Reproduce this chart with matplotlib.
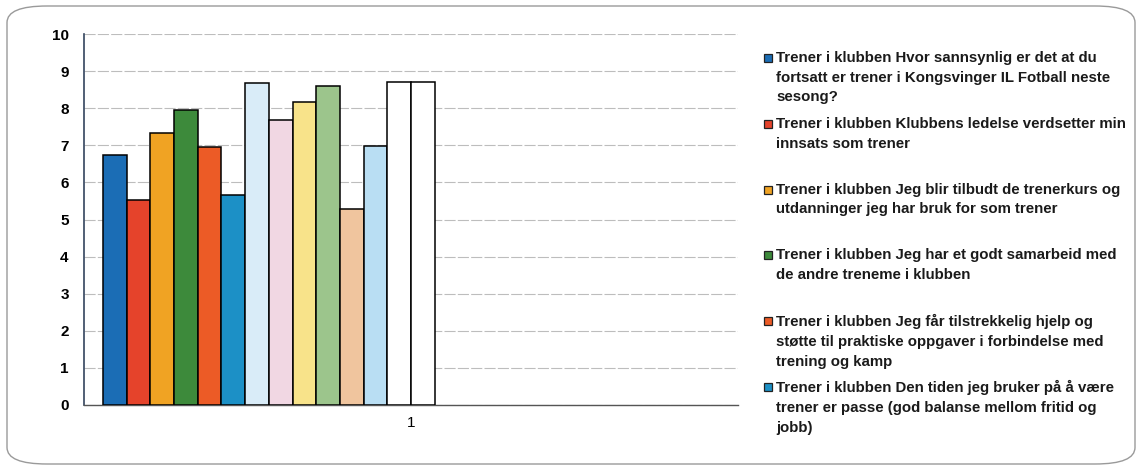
import matplotlib
matplotlib.use("Agg")
import matplotlib.pyplot as plt
from matplotlib.patches import FancyBboxPatch, Rectangle

plt.rcParams['font.family'] = ['Liberation Sans', 'DejaVu Sans']

##############################
# Data
##############################

verdier = [6.73, 5.53, 7.34, 7.95, 6.95, 5.66, 8.67, 7.68, 8.18, 8.59, 5.27, 6.98, 8.71, 8.71]
farger = ['#1b6db5', '#e5432b', '#f0a323', '#3d8a3b', '#ec5b26', '#1c90c6',
          '#d9ecf8', '#f1d7e3', '#f8e38a', '#9cc58c', '#f0c59e', '#b9def3',
          '#ffffff', '#ffffff']
kategori = ['1']
antall_serier = 26   # serier i gruppen (resten er tomme)

etiketter = [
    "Trener i klubben Hvor sannsynlig er det at du\nfortsatt er trener i Kongsvinger IL Fotball neste\nsesong?",
    "Trener i klubben Klubbens ledelse verdsetter min\ninnsats som trener",
    "Trener i klubben Jeg blir tilbudt de trenerkurs og\nutdanninger jeg har bruk for som trener",
    "Trener i klubben Jeg har et godt samarbeid med\nde andre treneme i klubben",
    "Trener i klubben Jeg får tilstrekkelig hjelp og\nstøtte til praktiske oppgaver i forbindelse med\ntrening og kamp",
    "Trener i klubben Den tiden jeg bruker på å være\ntrener er passe (god balanse mellom fritid og\njobb)",
]

##############################
# Figur
##############################

W, H = 1141, 472
fig = plt.figure(figsize=(W / 100, H / 100), dpi=100)

# ramme rundt hele diagrammet
ramme = FancyBboxPatch((7 / W, 8 / H), 1128 / W, 458 / H,
                       boxstyle="round,pad=0,rounding_size=0.035",
                       transform=fig.transFigure, fill=False,
                       edgecolor='#9a9a9a', linewidth=1.0)
fig.patches.append(ramme)

ax = fig.add_axes([84 / W, 1 - 405 / H, (738 - 84) / W, (405 - 34) / H])

n = len(verdier)
posisjoner = [i - (antall_serier - 1) / 2 for i in range(n)]
ax.bar(posisjoner, verdier, width=1.0, color=farger,
       edgecolor='black', linewidth=1.1, zorder=3)

ax.set_xlim(-antall_serier / 2 - 0.8, antall_serier / 2 + 0.8)
ax.set_ylim(0, 10)
ax.set_yticks(range(0, 11))
ax.set_xticks([0])
ax.set_xticklabels(kategori)
ax.tick_params(axis='y', length=0, pad=11, labelsize=11)
ax.tick_params(axis='x', length=0, pad=8, labelsize=11)
for lab in ax.get_yticklabels():
    lab.set_fontweight('bold')

ax.grid(axis='y', color='#bdbdbd', linewidth=0.8, linestyle=(0, (10, 2)), zorder=0)
for s in ['top', 'right']:
    ax.spines[s].set_visible(False)
ax.spines['left'].set_color('#33445e')
ax.spines['left'].set_linewidth(1.2)
ax.spines['bottom'].set_color('#555555')
ax.spines['bottom'].set_linewidth(1.0)

# forklaring (bare de seks første seriene)
y0 = 58
steg = 65.8
for i, tekst in enumerate(etiketter):
    yc = y0 + i * steg
    fig.patches.append(Rectangle(((768 - 4) / W, 1 - (yc + 4) / H), 8 / W, 8 / H,
                                 transform=fig.transFigure, facecolor=farger[i],
                                 edgecolor='#222222', linewidth=0.9))
    fig.text(776 / W, 1 - (yc - 7) / H, tekst, ha='left', va='top',
             fontsize=10.8, fontweight='bold', linespacing=1.52, color='#1a1a1a')

fig.savefig('out.png', dpi=100)
